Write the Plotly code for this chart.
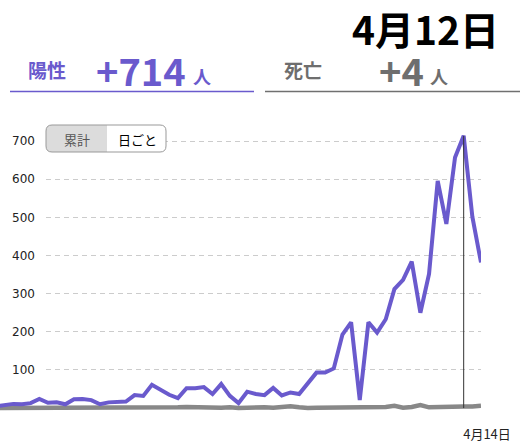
import pandas as pd
import plotly.graph_objects as go

# daily counts, 2020-02-18 .. 2020-04-14
dates = pd.date_range("2020-02-18", "2020-04-14", freq="D")
positives = [5, 8, 11, 10, 13, 24, 14, 15, 10, 23,
             24, 21, 10, 15, 15, 17, 34, 32, 61, 48,
             35, 26, 52, 52, 55, 37, 63, 32, 13, 43,
             37, 34, 53, 33, 41, 37, 65, 93, 93, 104,
             193, 225, 21, 225, 198, 233, 312, 336, 384, 250,
             352, 596, 483, 657, 714, 502, 382]
deaths = [0, 0, 0, 0, 1, 0, 0, 1, 0, 0,
          0, 1, 1, 0, 0, 0, 1, 1, 1, 2,
          2, 2, 3, 2, 1, 1, 1, 2, 0, 1,
          2, 2, 1, 3, 5, 2, 0, 1, 1, 2,
          2, 3, 2, 2, 3, 3, 6, 1, 3, 8,
          2, 3, 4, 4, 4, 4, 6]
y_ticks = [100, 200, 300, 400, 500, 600, 700]
sel = 54  # 4月12日

W, H = 528, 443
PURPLE = "#6a5acd"
GRAY = "#888888"
JP = "Noto Sans CJK JP"


def px(x):
    return x / W


def py(y):
    return (H - y) / H


sel_date = dates[sel]
last_date = dates[-1]

fig = go.Figure()
# invisible trace so the grid subplot is drawn
fig.add_trace(go.Scatter(x=dates, y=positives, xaxis="x", yaxis="y", mode="lines",
                         line=dict(width=0), opacity=0, hoverinfo="skip"))
fig.add_trace(go.Scatter(x=dates, y=deaths, xaxis="x2", yaxis="y2", mode="lines",
                         line=dict(color=GRAY, width=4.5), hoverinfo="skip"))
fig.add_trace(go.Scatter(x=dates, y=positives, xaxis="x2", yaxis="y2", mode="lines",
                         line=dict(color=PURPLE, width=4), hoverinfo="skip"))
fig.add_trace(go.Scatter(x=[sel_date, sel_date], y=[0, positives[sel]], xaxis="x2", yaxis="y2",
                         mode="lines", line=dict(color="#333333", width=1), hoverinfo="skip"))

y_range = [-26, 755.5]
y_dom = [py(418), py(120)]

fig.update_layout(
    width=W, height=H,
    autosize=False,
    margin=dict(l=0, r=0, t=0, b=0, pad=0, autoexpand=False),
    paper_bgcolor="white",
    plot_bgcolor="rgba(0,0,0,0)",
    showlegend=False,
    hovermode=False,
    font=dict(family=JP, color="#222222"),
    xaxis=dict(domain=[px(46), px(481)], visible=False, automargin=False),
    yaxis=dict(domain=y_dom, range=y_range, tickvals=y_ticks, showgrid=True,
               gridcolor="#cccccc", griddash="5px,4px", gridwidth=1, zeroline=False,
               showline=False, ticks="", ticklabelstandoff=10, automargin=False,
               tickfont=dict(family="DejaVu Sans", size=12, color="#222222")),
    xaxis2=dict(domain=[0, px(481)], anchor="y2", automargin=False,
                range=[pd.Timestamp("2020-02-18 11:00"), last_date],
                tickvals=[last_date], ticktext=[f"{last_date.month}月{last_date.day}日"],
                showgrid=False, zeroline=False, showline=False, ticks="",
                ticklabelstandoff=7, ticklabelshift=6,
                tickfont=dict(family=JP, size=13, color="#222222")),
    yaxis2=dict(domain=y_dom, range=y_range, matches="y", anchor="x2", visible=False,
                automargin=False),
)

annotations = [
    dict(text=f"{sel_date.month}月{sel_date.day}日", x=px(425), y=py(28),
         font=dict(size=39, color="black", weight="bold")),
    dict(text="陽性", x=px(46.5), y=py(70), font=dict(size=19, color=PURPLE, weight="bold")),
    dict(text=f"+{positives[sel]}", x=px(140.5), y=py(69), font=dict(size=38, color=PURPLE, weight="bold")),
    dict(text="人", x=px(201.5), y=py(76), font=dict(size=18, color=PURPLE, weight="bold")),
    dict(text="死亡", x=px(302.5), y=py(70), font=dict(size=19, color="#6e6e6e", weight="bold")),
    dict(text=f"+{deaths[sel]}", x=px(401.5), y=py(69), font=dict(size=38, color="#6e6e6e", weight="bold")),
    dict(text="人", x=px(438.5), y=py(76), font=dict(size=18, color="#6e6e6e", weight="bold")),
    dict(text="累計", x=px(76.5), y=py(139), font=dict(size=13, color="#555555")),
    dict(text="日ごと", x=px(137), y=py(139), font=dict(size=13, color="black")),
]
for a in annotations:
    a.update(xref="paper", yref="paper", xanchor="center", yanchor="middle", showarrow=False)
    a["font"].setdefault("family", JP)
fig.update_layout(annotations=annotations)


def rounded(x0, y0, x1, y1, r, left=True, right=True):
    p = f"M {px(x0 + (r if left else 0))},{py(y0)} "
    p += f"L {px(x1 - (r if right else 0))},{py(y0)} "
    if right:
        p += f"Q {px(x1)},{py(y0)} {px(x1)},{py(y0 + r)} L {px(x1)},{py(y1 - r)} "
        p += f"Q {px(x1)},{py(y1)} {px(x1 - r)},{py(y1)} "
    else:
        p += f"L {px(x1)},{py(y1)} "
    p += f"L {px(x0 + (r if left else 0))},{py(y1)} "
    if left:
        p += f"Q {px(x0)},{py(y1)} {px(x0)},{py(y1 - r)} L {px(x0)},{py(y0 + r)} "
        p += f"Q {px(x0)},{py(y0)} {px(x0 + r)},{py(y0)} "
    return p + "Z"


shapes = [
    dict(type="line", x0=px(10), x1=px(254), y0=py(91.5), y1=py(91.5),
         line=dict(color=PURPLE, width=1.5)),
    dict(type="line", x0=px(265), x1=px(520), y0=py(91.5), y1=py(91.5),
         line=dict(color="#707070", width=1.5)),
    dict(type="path", path=rounded(46, 125, 166, 152, 6), fillcolor="white",
         line=dict(width=0)),
    dict(type="path", path=rounded(46, 125, 107, 152, 6, right=False), fillcolor="#dcdcdc",
         line=dict(width=0)),
    dict(type="path", path=rounded(46, 125, 166, 152, 6), fillcolor="rgba(0,0,0,0)",
         line=dict(color="#999999", width=1)),
]
for s in shapes:
    s.update(xref="paper", yref="paper", layer="above")
fig.update_layout(shapes=shapes)

# no body margin, no autosizing on window resize
fig.write_html(
    "out.html",
    config={"responsive": False, "displayModeBar": False, "staticPlot": True},
    post_script="document.body.style.margin='0';document.body.style.overflow='hidden';",
)
